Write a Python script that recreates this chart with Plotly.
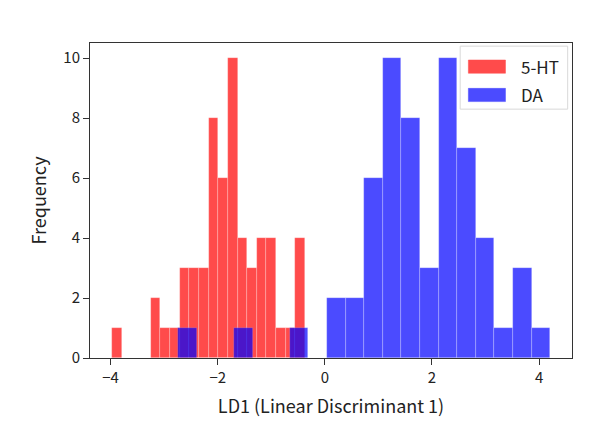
import numpy as np
import plotly.graph_objects as go

# histogram counts (20 equal bins per group)
red_name = '5-HT'
red_lo, red_hi = -3.976, -0.368
red_counts = [1, 0, 0, 0, 2, 1, 1, 3, 3, 3, 8, 6, 10, 4, 3, 4, 4, 1, 1, 4]

blue_name = 'DA'
blue_lo, blue_hi = -2.736, 4.206
blue_counts = [1, 0, 0, 1, 0, 0, 1, 0, 2, 2, 6, 10, 8, 3, 10, 7, 4, 1, 3, 1]

x_ticks = [-4, -2, 0, 2, 4]
y_ticks = [0, 2, 4, 6, 8, 10]

FONT = 'Noto Sans CJK KR'
RED = 'rgb(255,0,0)'
BLUE = 'rgb(0,0,255)'


def hist_bar(lo, hi, counts, color, name):
    edges = np.linspace(lo, hi, len(counts) + 1)
    centers = (edges[:-1] + edges[1:]) / 2
    widths = np.diff(edges)
    return go.Bar(
        x=centers, y=counts, width=widths, name=name,
        marker=dict(color=color, line=dict(color='rgba(255,255,255,0.35)', width=0.6)),
        opacity=0.7, showlegend=False,
    )


fig = go.Figure()
fig.add_trace(hist_bar(red_lo, red_hi, red_counts, RED, red_name))
fig.add_trace(hist_bar(blue_lo, blue_hi, blue_counts, BLUE, blue_name))

# matplotlib-like padding of 5% on x, 5% on top
span = blue_hi - red_lo
x_range = [red_lo - 0.05 * span, blue_hi + 0.05 * span]
y_top = max(max(red_counts), max(blue_counts)) * 1.05

axis_common = dict(
    showline=True, linecolor='#333', linewidth=1, mirror=True,
    ticks='outside', ticklen=6, tickcolor='#333', tickwidth=1,
    showgrid=False, zeroline=False, automargin=False,
    tickfont=dict(family=FONT, size=15, color='#222'),
)

# the page adds ~8px body margin, so the margins are shifted to compensate
fig.update_layout(
    width=602, height=421,
    margin=dict(l=82, r=38, t=35, b=71),
    paper_bgcolor='white', plot_bgcolor='white',
    barmode='overlay', bargap=0,
    font=dict(family=FONT, color='#222'),
    xaxis=dict(range=x_range, tickvals=x_ticks,
               title=dict(text='LD1 (Linear Discriminant 1)', font=dict(family=FONT, size=18), standoff=14),
               **axis_common),
    yaxis=dict(range=[0, y_top], tickvals=y_ticks,
               title=dict(text='Frequency', font=dict(family=FONT, size=18), standoff=12),
               **axis_common),
)

# legend drawn like matplotlib's (wide patches in a light framed box)
legend_items = [(red_name, RED), (blue_name, BLUE)]
fig.add_shape(type='rect', xref='paper', yref='paper',
              x0=0.768, x1=0.991, y0=0.79, y1=0.99,
              line=dict(color='#d9d9d9', width=1), fillcolor='rgba(255,255,255,0.85)', layer='above')
for i, (label, color) in enumerate(legend_items):
    yc = 0.925 - i * 0.09
    fig.add_shape(type='rect', xref='paper', yref='paper',
                  x0=0.785, x1=0.862, y0=yc - 0.021, y1=yc + 0.021,
                  line=dict(color=color, width=0.5), fillcolor=color, opacity=0.7, layer='above')
    fig.add_annotation(text=label, xref='paper', yref='paper', x=0.89, y=yc,
                       xanchor='left', yanchor='middle', showarrow=False,
                       font=dict(family=FONT, size=17, color='#222'))

fig.write_html('out.html')
